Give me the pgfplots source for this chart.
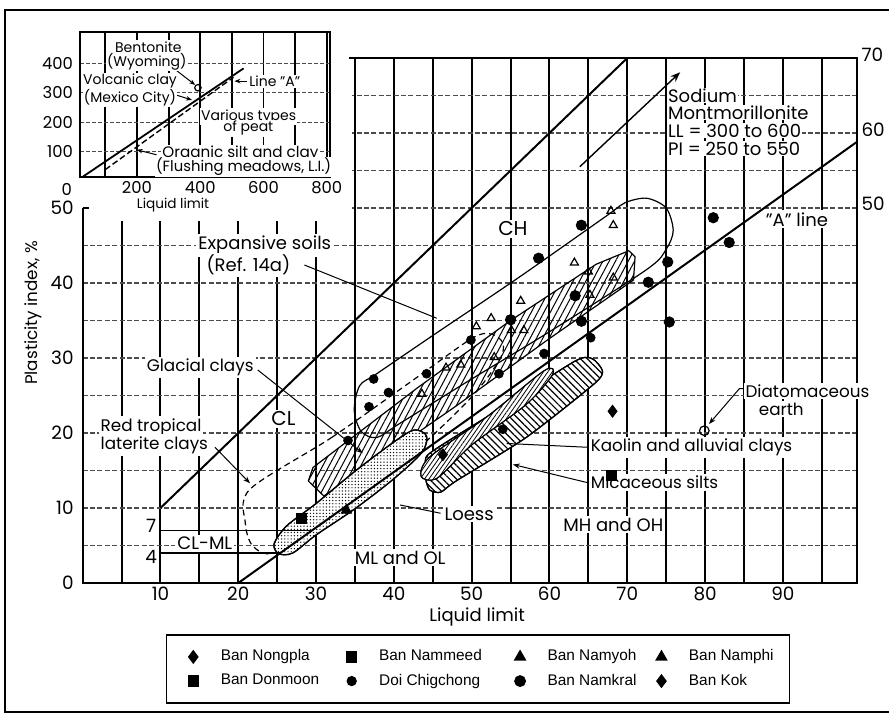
\documentclass[border=0pt]{standalone}
\usepackage{pgfplots}
\pgfplotsset{compat=1.18}
\usepackage{fontspec}
\setmainfont{Poppins}
\newfontfamily\legfont{Liberation Sans}
\usetikzlibrary{patterns.meta,arrows.meta}
\newcommand\lbl{\fontsize{8.4}{9}\selectfont}
\newcommand\zlbl{\fontsize{9}{10}\selectfont}
\newcommand\tkl{\fontsize{9.2}{10}\selectfont}
\newcommand\ilbl{\fontsize{7}{8}\selectfont}
\pgfplotsset{lim/.style={legend image code/.code={\path (-0.05cm,0cm) (0.6cm,0cm); \draw[##1,only marks] plot coordinates {(0.2cm,0cm)};}}}
\begin{document}
\begin{tikzpicture}[x=1pt,y=1pt]
\path[use as bounding box] (0,0) rectangle (444.5,357.5);
\draw[line width=0.8pt] (444.5,352.5) -- (2.5,352.5) -- (2.5,1.5) -- (444.5,1.5);
\begin{axis}[
 at={(41.35pt,66pt)}, anchor=south west,
 scale only axis, width=387.05pt, height=262.5pt,
 xmin=0, xmax=99.5, ymin=0, ymax=70,
 clip=false,
 axis line style={draw=none},
 major tick length=0pt, minor tick length=0pt,
 xtick={10,20,...,90}, minor xtick={5,15,...,95},
 ytick={0,10,20,30,40,50}, minor ytick={5,15,25,35,45,55,60,65},
 grid=both,
 major x grid style={line width=1pt,black},
 minor x grid style={line width=1pt,black},
 major y grid style={line width=0.55pt,black!70,dash pattern=on 2.5pt off 1.2pt},
 minor y grid style={line width=0.55pt,black!70,dash pattern=on 2.5pt off 1.2pt},
 tick label style={font=\tkl},
 /pgf/number format/assume math mode=true,
 xticklabel style={yshift=1.5pt},
 yticklabel style={xshift=-1pt},
 legend columns=4,
 legend cell align=left,
 legend style={at={(0.5107,-0.1638)}, anchor=center, font=\legfont\fontsize{7.7}{9}\selectfont, draw=black, line width=0.7pt, inner xsep=6pt, inner ysep=5.5pt, row sep=1pt},
]
% blank area under the inset
\fill[white] (axis cs:0.3,48.2) rectangle (axis cs:34.6,70.5);

% Red tropical laterite clays (dashed envelope)
\addplot[forget plot, line width=0.6pt, dash pattern=on 3pt off 2pt, smooth cycle, tension=0.5] coordinates {
 (21.5,12.5) (32,19.4) (42.4,27.0) (50,32.6) (52.5,33.2) (54,32) (53.6,29.8) (50,24.8) (43,17.8) (35,11) (28.5,6.2) (24.2,3.9) (21.8,5.0) (20.9,8.0)};
% Glacial clays band (hatched)
\addplot[forget plot, line width=0.6pt, pattern={Lines[angle=62,distance=2.8pt,line width=0.5pt]}] coordinates {
 (29,13.6) (29.6,15.4) (43,26) (55,35) (66,42.5) (70.2,44.3) (71,43.5) (70.8,40.4) (60,32.6) (48,23.6) (38,16.4) (31,11.6) (29,13.6)};
% Expansive soils envelope
\addplot[forget plot, line width=0.6pt, smooth cycle, tension=0.5] coordinates {
 (34.9,23.0) (35.6,26.3) (37.8,27.9) (45,33) (56,40.7) (67.4,49.0) (69.7,50.7) (72.5,51.3) (75.0,50.0) (75.9,47.0) (75.0,44.5) (72.5,41.8) (60,33.5) (50,27.2) (40.8,21.3) (37.8,19.4) (35.8,20.2)};
% Micaceous silts
\addplot[forget plot, line width=0.6pt, preaction={fill=white}, pattern={Lines[angle=-45,distance=2.4pt,line width=0.6pt]}, smooth cycle, tension=0.4] coordinates {
 (44.2,15.5) (44.6,17.3) (53.6,23.2) (63.3,29.6) (65.5,29.9) (66.8,28.3) (65.8,26.6) (57,19.4) (48,13.6) (46,12.1) (44.6,12.4) (44.1,13.8)};
% Kaolin and alluvial clays
\addplot[forget plot, line width=0.5pt, preaction={fill=white}, pattern={Lines[angle=55,distance=1.8pt,line width=0.4pt]}, smooth cycle, tension=0.5] coordinates {
 (43.5,14.2) (44.6,16.8) (52,22.2) (59.3,28.3) (60.4,27.8) (57,23.8) (50,18.4) (45.6,14.0)};
% Loess
\addplot[forget plot, line width=0.6pt, preaction={fill=white}, pattern={Dots[distance=1.6pt,radius=0.35pt]}, smooth cycle, tension=0.5] coordinates {
 (24.6,5.2) (26.2,7.6) (30,10.6) (35,14.9) (40,18.8) (42.6,20.4) (44.2,19.6) (43.6,17.4) (40,13.9) (35,9.9) (30,6.4) (27,4.0) (25.2,3.9)};

% main lines
\addplot[forget plot, line width=1pt] coordinates {(10,10) (70,70)};
\addplot[forget plot, line width=1pt] coordinates {(20,0) (99.5,58.8)};
\addplot[forget plot, line width=0.6pt] coordinates {(10,7) (29.5,7)};
\addplot[forget plot, line width=0.6pt] coordinates {(10,4) (25.4,4)};
\addplot[forget plot, line width=0.7pt, -{Stealth[length=5pt]}] coordinates {(63.9,55.5) (76.8,68.1)};
\addplot[forget plot, only marks, mark=o, mark size=2.4pt, line width=0.6pt] coordinates {(79.9,20.3)};

% soil samples
\addplot[only marks, lim, mark=diamond*, mark size=3pt, black] coordinates {(68.1,22.9)};
\addlegendentry{\makebox[56pt][l]{Ban Nongpla}}
\addplot[only marks, lim, mark=square*, mark size=2.5pt, black] coordinates {(28.1,8.6)};
\addlegendentry{\makebox[61pt][l]{Ban Nammeed}}
\addplot[only marks, lim, mark=triangle*, mark size=3pt, black] coordinates {(33.9,9.7)};
\addlegendentry{\makebox[47.5pt][l]{Ban Namyoh}}
\addplot[only marks, lim, mark=triangle, mark size=2.3pt, black, line width=0.6pt, legend image post style={mark=triangle*, mark size=3pt}] coordinates {
 (67.9,49.6) (68.2,47.7) (63.2,42.7) (65.0,41.5) (56.3,37.6) (52.5,35.3) (50.6,34.2) (55.1,33.7) (56.7,33.7) (46.7,28.7) (48.6,29.1) (43.6,25.2) (52.9,30.1) (65.2,38.4) (68.2,40.7)};
\addlegendentry{Ban Namphi}
\addplot[only marks, lim, mark=square*, mark size=2.5pt, black] coordinates {(67.9,14.4)};
\addlegendentry{\makebox[56pt][l]{Ban Donmoon}}
\addplot[only marks, lim, mark=*, mark size=2.2pt, black] coordinates {
 (53.5,27.9) (44.2,27.9) (59.3,30.6) (54.0,20.5) (65.3,32.7) (49.9,32.4) (37.4,27.2) (39.3,25.4) (36.8,23.5) (34.1,19.0)};
\addlegendentry{\makebox[61pt][l]{Doi Chigchong}}
\addplot[only marks, lim, mark=*, mark size=2.6pt, black] coordinates {
 (81.05,48.7) (83.1,45.4) (64.1,47.7) (58.6,43.3) (75.2,42.8) (72.7,40.1) (63.3,38.3) (55.0,35.1) (64.1,34.9) (75.4,34.8)};
\addlegendentry{\makebox[47.5pt][l]{Ban Namkral}}
\addplot[only marks, lim, mark=diamond*, mark size=3pt, black] coordinates {(46.3,17.1)};
\addlegendentry{Ban Kok}

% frame
\draw[line width=1pt] (axis cs:0,50) -- (axis cs:0,0) -- (axis cs:99.5,0) -- (axis cs:99.5,70) -- (axis cs:34.2,70);
\draw[line width=1pt] (axis cs:0,50) -- (axis cs:0.8,50);

% leaders
\draw[line width=0.5pt] (axis cs:28.5,42.4) -- (axis cs:45.5,35.3);
\draw[line width=0.5pt,-{Stealth[length=3.5pt]}] (axis cs:22.5,28.4) -- (axis cs:36,17.3);
\draw[line width=0.5pt,-{Stealth[length=3.5pt]}] (axis cs:17.0,18.1) -- (axis cs:21.5,13.3);
\draw[line width=0.5pt] (axis cs:46,9.3) -- (axis cs:40.8,10.4);
\draw[line width=0.5pt] (axis cs:64.8,18.1) -- (axis cs:54.5,18.6);
\draw[line width=0.5pt,-{Stealth[length=3.5pt]}] (axis cs:64.8,13.4) -- (axis cs:55.3,15.8);
\draw[line width=0.5pt,-{Stealth[length=3.5pt]}] (axis cs:85.2,25.9) -- (axis cs:84.4,25.9) -- (axis cs:80.5,21.2);

% labels
\begin{scope}[every node/.style={font=\lbl, fill=white, inner sep=1pt}]
\node at (axis cs:55.3,47.2) {\fontsize{10}{11}\selectfont CH};
\node at (axis cs:25.8,21.9) {\fontsize{10}{11}\selectfont CL};
\node at (axis cs:15.7,5.3) {\zlbl CL-ML};
\node at (axis cs:40.8,3.4) {\zlbl ML and OL};
\node at (axis cs:68.2,7.8) {\zlbl MH and OH};
\node[anchor=west] at (axis cs:65,18.1) {Kaolin and alluvial clays};
\node[anchor=west] at (axis cs:65,13.4) {Micaceous silts};
\node[anchor=west] at (axis cs:46.2,9.2) {\zlbl Loess};
\node[anchor=west] at (axis cs:84.9,25.6) {Diatomaceous};
\node[anchor=west] at (axis cs:86.6,23.2) {earth};
\node[anchor=west,inner sep=0.4pt] at (axis cs:75.1,65.0) {\zlbl Sodium};
\node[anchor=west,inner sep=0.4pt] at (axis cs:75.1,62.7) {\zlbl Montmorillonite};
\node[anchor=west,inner sep=0.4pt] at (axis cs:75.1,60.3) {\zlbl LL = 300 to 600};
\node[anchor=west,inner sep=0.4pt] at (axis cs:75.1,57.9) {\zlbl PI = 250 to 550};
\node at (axis cs:91.8,48.5) {\zlbl "A" line};
\node at (axis cs:23.4,45.0) {\zlbl Expansive soils};
\node at (axis cs:21.3,42.4) {\zlbl (Ref. 14a)};
\node at (axis cs:15.1,28.7) {Glacial clays};
\node[anchor=west] at (axis cs:2,20.8) {Red tropical};
\node[anchor=west] at (axis cs:2,18.4) {laterite clays};
\node at (axis cs:8.8,7.6) {\tkl 7};
\node at (axis cs:8.8,3.5) {\tkl 4};
\end{scope}
\node[font=\tkl,anchor=west,inner sep=1pt] at (axis cs:99.8,70.4) {70};
\node[font=\tkl,anchor=west,inner sep=1pt] at (axis cs:99.8,60.5) {60};
\node[font=\tkl,anchor=west,inner sep=1pt] at (axis cs:99.8,50.5) {50};
\node[font=\zlbl] at (axis cs:50.7,-4.6) {Liquid limit};
\node[font=\lbl,rotate=90] at (axis cs:-6.3,36) {Plasticity index, \%};
\end{axis}

% inset
\begin{axis}[
 at={(40pt,269pt)}, anchor=south west,
 scale only axis, width=125pt, height=72.5pt,
 xmin=20, xmax=810, ymin=15, ymax=505,
 clip=false,
 axis background/.style={fill=white},
 axis line style={line width=0.9pt},
 major tick length=0pt, minor tick length=0pt,
 xtick={200,400,600,800}, minor xtick={100,300,500,700},
 ytick={100,200,300,400},
 grid=both,
 major x grid style={line width=0.9pt,black},
 minor x grid style={line width=0.9pt,black},
 major y grid style={line width=0.5pt,black!70,dash pattern=on 2pt off 1pt},
 tick label style={font=\fontsize{8.2}{9}\selectfont},
 /pgf/number format/assume math mode=true,
 xticklabel style={yshift=1.5pt},
]
\addplot[line width=0.9pt] coordinates {(29,16) (537,382)};
\addplot[line width=0.7pt, dash pattern=on 3pt off 1.5pt] coordinates {(100,40) (505,352)};
\addplot[only marks, mark=o, mark size=1.6pt, line width=0.6pt] coordinates {(392.7,316.5)};
\draw[line width=0.5pt,-{Stealth[length=3pt]}] (axis cs:326,374) -- (axis cs:384,326);
\draw[line width=0.5pt,-{Stealth[length=3pt]}] (axis cs:315,295) -- (axis cs:374,275);
\draw[line width=0.5pt,-{Stealth[length=3pt]}] (axis cs:262,90) -- (axis cs:199,107);
\draw[line width=0.5pt,-{Stealth[length=3pt]}] (axis cs:548,339) -- (axis cs:508,339);
\begin{scope}[every node/.style={font=\ilbl, fill=white, inner sep=0.6pt}]
\node at (axis cs:236,454) {Bentonite};
\node at (axis cs:231,404) {(Wyoming)};
\node at (axis cs:178,339) {Volcanic clay};
\node at (axis cs:178,284) {(Mexico City)};
\node[anchor=west] at (axis cs:550,339) {Line "A"};
\node at (axis cs:553,219) {Various types};
\node at (axis cs:552,180) {of peat};
\node at (axis cs:527,93) {\fontsize{7.6}{8}\selectfont Organic silt and clay};
\node at (axis cs:537,50) {\fontsize{7.4}{8}\selectfont (Flushing meadows, L.I.)};
\end{scope}
\node[font=\fontsize{6.8}{7}\selectfont, inner sep=0.5pt] at (axis cs:314,-80) {Liquid limit};
\node[font=\fontsize{8.2}{9}\selectfont] at (axis cs:-22,-28) {0};
\end{axis}
\end{tikzpicture}
\end{document}
